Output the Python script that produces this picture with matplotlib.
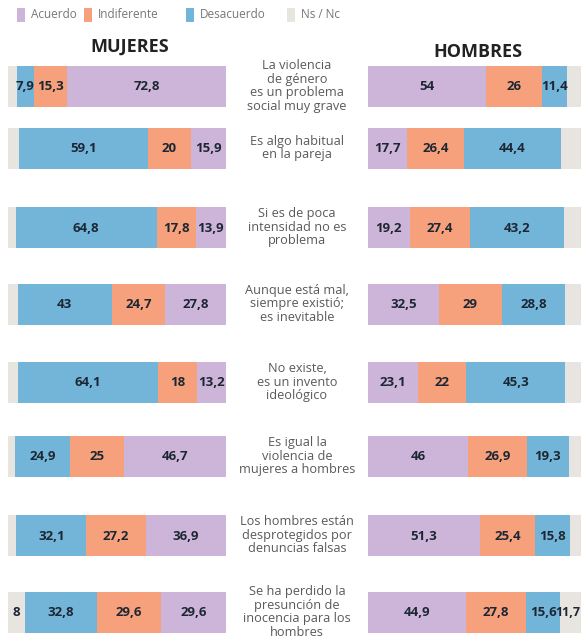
import matplotlib.pyplot as plt
from matplotlib.patches import Rectangle
from matplotlib.transforms import blended_transform_factory

# === Datos ===
categorias = [
    "La violencia\nde género\nes un problema\nsocial muy grave",
    "Es algo habitual\nen la pareja",
    "Si es de poca\nintensidad no es\nproblema",
    "Aunque está mal,\nsiempre existió;\nes inevitable",
    "No existe,\nes un invento\nideológico",
    "Es igual la\nviolencia de\nmujeres a hombres",
    "Los hombres están\ndesprotegidos por\ndenuncias falsas",
    "Se ha perdido la\npresunción de\ninocencia para los\nhombres",
]
series = ["Acuerdo", "Indiferente", "Desacuerdo", "Ns / Nc"]

muj_acuerdo = [72.8, 15.9, 13.9, 27.8, 13.2, 46.7, 36.9, 29.6]
muj_indif = [15.3, 20, 17.8, 24.7, 18, 25, 27.2, 29.6]
muj_desac = [7.9, 59.1, 64.8, 43, 64.1, 24.9, 32.1, 32.8]
muj_nsnc = [4.0, 5.0, 3.5, 4.5, 4.7, 3.4, 3.8, 8]

hom_acuerdo = [54, 17.7, 19.2, 32.5, 23.1, 46, 51.3, 44.9]
hom_indif = [26, 26.4, 27.4, 29, 22, 26.9, 25.4, 27.8]
hom_desac = [11.4, 44.4, 43.2, 28.8, 45.3, 19.3, 15.8, 15.6]
hom_nsnc = [8.6, 11.5, 10.2, 9.7, 9.6, 7.8, 7.5, 11.7]

# solo la ultima fila lleva etiqueta en Ns / Nc
nsnc_con_etiqueta = [False, False, False, False, False, False, False, True]

# === Estilo / layout ===
colores = ["#cdb5da", "#f6a07c", "#72b5d9", "#e8e4df"]
W, H = 581, 643
fila_y = [86, 148, 227, 304, 382, 456, 535, 612]  # centro de cada barra (px)
alto_barra = 41
color_valor = "#1d2733"
fuente = ["Open Sans", "DejaVu Sans"]

fig = plt.figure(figsize=(W / 100, H / 100), dpi=100)
fig.patch.set_facecolor("white")


def fmt(v):
    s = f"{v:.1f}".rstrip("0").rstrip(".")
    return s.replace(".", ",")


def dibujar_panel(ax, datos, invertido):
    ax.set_xlim(100, 0) if invertido else ax.set_xlim(0, 100)
    ax.set_ylim(H, 0)
    ax.axis("off")
    borde = blended_transform_factory(fig.transFigure, ax.transData)
    left = [0] * len(fila_y)
    for s_idx, (vals, col) in enumerate(zip(datos, colores)):
        ax.barh(fila_y, vals, left=left, height=alto_barra, color=col, linewidth=0)
        for i, v in enumerate(vals):
            kw = dict(va="center", fontweight="bold", color=color_valor,
                      family=fuente, clip_on=False)
            if s_idx == 3:
                if not nsnc_con_etiqueta[i]:
                    continue
                if not invertido:
                    # en hombres el segmento gris queda cortado por el borde
                    ax.text(0.999, fila_y[i] + 1, fmt(v), ha="right", fontsize=9,
                            transform=borde, **kw)
                    continue
            ax.text(left[i] + v / 2, fila_y[i] + 1, fmt(v), ha="center", fontsize=9.5, **kw)
        left = [a + b for a, b in zip(left, vals)]


ax_m = fig.add_axes([8 / W, 0, 218 / W, 1])
dibujar_panel(ax_m, [muj_acuerdo, muj_indif, muj_desac, muj_nsnc], invertido=True)

ax_h = fig.add_axes([368 / W, 0, 218 / W, 1])
dibujar_panel(ax_h, [hom_acuerdo, hom_indif, hom_desac, hom_nsnc], invertido=False)

# titulos
fig.text(130 / W, 1 - 47 / H, "MUJERES", ha="center", va="center", fontsize=13,
         fontweight="bold", color="#222222", family=fuente)
fig.text(478 / W, 1 - 52 / H, "HOMBRES", ha="center", va="center", fontsize=13,
         fontweight="bold", color="#222222", family=fuente)

# categorias en el centro
for y, txt in zip(fila_y, categorias):
    fig.text(297 / W, 1 - y / H, txt, ha="center", va="center", fontsize=9.2,
             color="#5a5a5a", family=fuente, linespacing=1.05)

# leyenda
leg_x = [17, 84, 186, 287]
for x, nombre, col in zip(leg_x, series, colores):
    fig.add_artist(Rectangle((x / W, 1 - 22 / H), 8 / W, 14 / H, transform=fig.transFigure,
                             color=col, linewidth=0))
    fig.text((x + 14) / W, 1 - 15 / H, nombre, ha="left", va="center", fontsize=8.5,
             color="#777777", family=fuente)

fig.savefig("out.png", dpi=100)
